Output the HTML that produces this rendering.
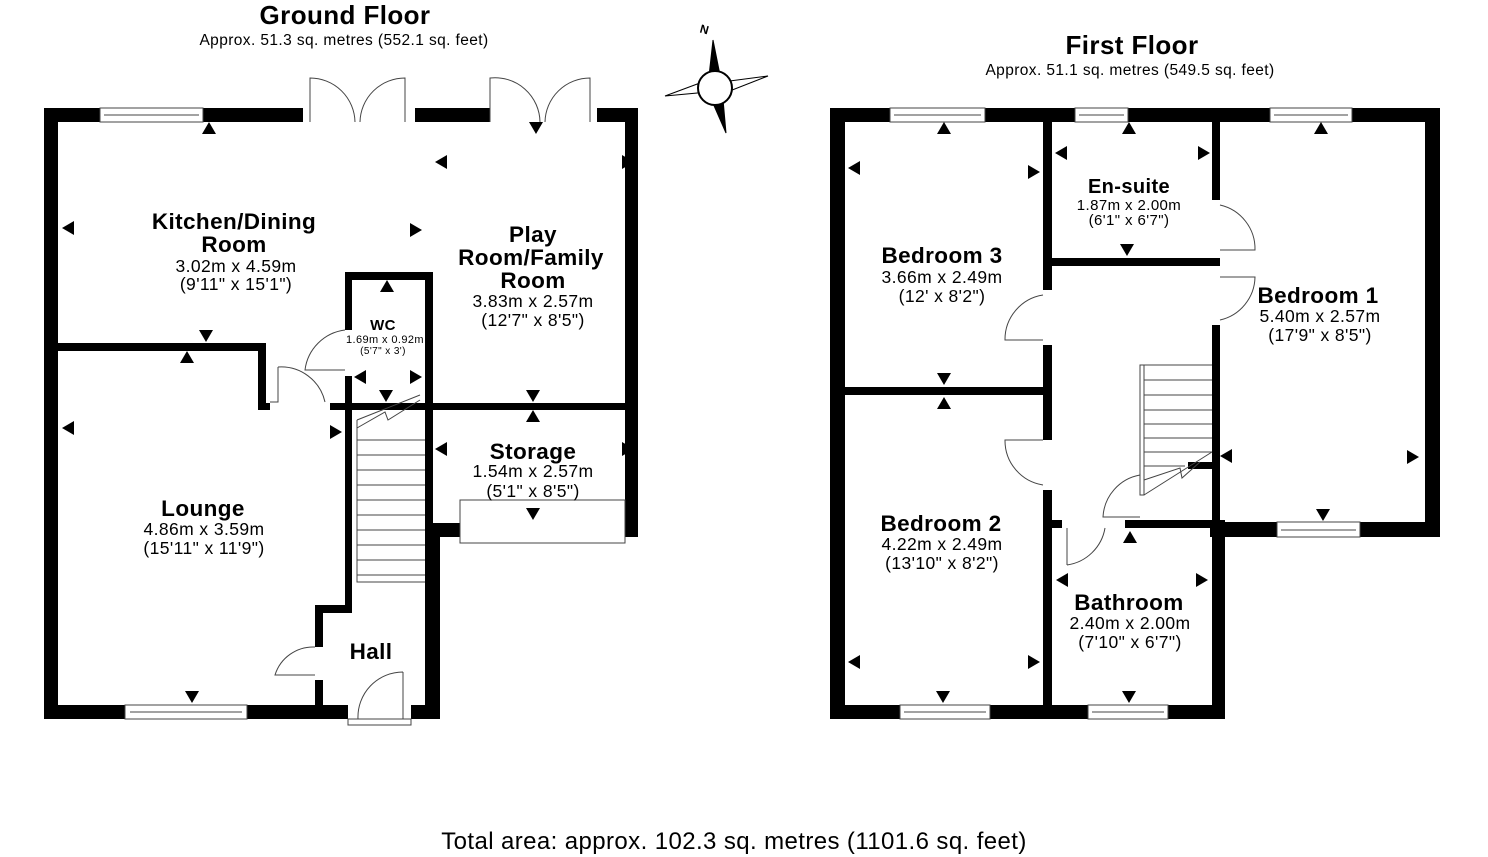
<!DOCTYPE html>
<html><head><meta charset="utf-8"><style>
html,body{margin:0;padding:0;background:#fff;width:1488px;height:857px;overflow:hidden}
svg text{font-family:"Liberation Sans",Arial,sans-serif;fill:#000;letter-spacing:0.4px}
</style></head><body>
<svg width="1488" height="857" viewBox="0 0 1488 857" xmlns="http://www.w3.org/2000/svg">
<defs>
<polygon id="tu" points="-7,6 7,6 0,-6"/>
<polygon id="td" points="-7,-6 7,-6 0,6"/>
<polygon id="tl" points="6,-7 6,7 -6,0"/>
<polygon id="tr" points="-6,-7 -6,7 6,0"/>
</defs>
<!-- Titles -->
<text x="345" y="24" font-size="26" font-weight="bold" text-anchor="middle">Ground Floor</text>
<text x="344" y="45" font-size="15.5" text-anchor="middle">Approx. 51.3 sq. metres (552.1 sq. feet)</text>
<text x="1132" y="54" font-size="26" font-weight="bold" text-anchor="middle">First Floor</text>
<text x="1130" y="75" font-size="15.5" text-anchor="middle">Approx. 51.1 sq. metres (549.5 sq. feet)</text>
<text x="734" y="849" font-size="24" text-anchor="middle">Total area: approx. 102.3 sq. metres (1101.6 sq. feet)</text>

<!-- Compass -->
<g stroke="#000" fill="#000">
<polygon points="713,40 722,85 708,85"/>
<polygon points="722,82 768,76 722,94" fill="#fff"/>
<polygon points="722,88 726,133 708,92"/>
<polygon points="708,80 665,96 708,92" fill="#fff"/>
<circle cx="715" cy="88" r="17" fill="#fff" stroke-width="2"/>
</g>
<text x="700" y="34" font-size="12" font-weight="bold" transform="rotate(15 706 30)">N</text>

<g fill="#000">
<rect x="44" y="108" width="14" height="611"/>
<rect x="44" y="108" width="56" height="14"/>
<rect x="203" y="108" width="100" height="14"/>
<rect x="415" y="108" width="75" height="14"/>
<rect x="597" y="108" width="41" height="14"/>
<rect x="625" y="108" width="13" height="429"/>
<rect x="44" y="705" width="81" height="14"/>
<rect x="247" y="705" width="101" height="14"/>
<rect x="411" y="705" width="29" height="14"/>
<rect x="425" y="272" width="8" height="447"/>
<rect x="427" y="523" width="13" height="196"/>
<rect x="427" y="523" width="33" height="14"/>
<rect x="625" y="523" width="13" height="14"/>
<rect x="58" y="343" width="208" height="8"/>
<rect x="258" y="343" width="8" height="67"/>
<rect x="258" y="403" width="12" height="7"/>
<rect x="330" y="403" width="308" height="7"/>
<rect x="345" y="272" width="88" height="8"/>
<rect x="345" y="272" width="7" height="58"/>
<rect x="345" y="376" width="7" height="236"/>
<rect x="315" y="605" width="37" height="8"/>
<rect x="315" y="605" width="8" height="42"/>
<rect x="315" y="680" width="8" height="30"/>

<rect x="830" y="108" width="15" height="611"/>
<rect x="830" y="108" width="60" height="14"/>
<rect x="985" y="108" width="90" height="14"/>
<rect x="1128" y="108" width="142" height="14"/>
<rect x="1352" y="108" width="88" height="14"/>
<rect x="1425" y="108" width="15" height="429"/>
<rect x="1210" y="522" width="67" height="15"/>
<rect x="1360" y="522" width="80" height="15"/>
<rect x="1212" y="522" width="13" height="197"/>
<rect x="830" y="705" width="70" height="14"/>
<rect x="990" y="705" width="98" height="14"/>
<rect x="1168" y="705" width="57" height="14"/>
<rect x="1043" y="122" width="9" height="168"/>
<rect x="1043" y="258" width="177" height="8"/>
<rect x="1043" y="345" width="9" height="95"/>
<rect x="1043" y="490" width="9" height="215"/>
<rect x="845" y="387" width="205" height="8"/>
<rect x="1212" y="122" width="8" height="78"/>
<rect x="1212" y="325" width="8" height="200"/>
<rect x="1125" y="520" width="100" height="8"/>
<rect x="1050" y="520" width="12" height="8"/>
<rect x="1188" y="462" width="26" height="7"/>
</g>

<g fill="none" stroke="#444" stroke-width="1">
<rect x="100" y="108" width="103" height="14"/><line x1="104" y1="115" x2="199" y2="115"/>
<rect x="125" y="705" width="122" height="14"/><line x1="130" y1="712" x2="242" y2="712"/>
<rect x="460" y="500" width="165" height="43"/>
<path d="M310,122 V78 A45,45 0 0 1 355,122 M405,122 V78 A45,45 0 0 0 360,122"/>
<path d="M490,122 V78 A45,45 0 0 1 540,122 M590,122 V78 A45,45 0 0 0 545,122"/>
<path d="M345,330 A46,46 0 0 0 305,370 H345"/>
<path d="M278,367 V402 H270 M278,367 A45,45 0 0 1 325,402"/>
<path d="M315,647 A40,40 0 0 0 275,675 H315"/>
<path d="M348,719 H411 V725 H348 Z M403,672 V719 M403,672 A45,45 0 0 0 358,719"/>
<path d="M357,420 L357,582 H425 M357,420 L420,395 M357,428 L385,412 L388,420 L420,400"/>
<path d="M357,440H425M357,455H425M357,470H425M357,485H425M357,500H425M357,515H425M357,530H425M357,545H425M357,560H425M357,575H425"/>
<rect x="890" y="108" width="95" height="14"/><line x1="894" y1="115" x2="981" y2="115"/>
<rect x="1075" y="108" width="53" height="14"/><line x1="1079" y1="115" x2="1124" y2="115"/>
<rect x="1270" y="108" width="82" height="14"/><line x1="1274" y1="115" x2="1348" y2="115"/>
<rect x="1277" y="522" width="83" height="15"/><line x1="1281" y1="530" x2="1356" y2="530"/>
<rect x="900" y="705" width="90" height="14"/><line x1="904" y1="712" x2="986" y2="712"/>
<rect x="1088" y="705" width="80" height="14"/><line x1="1092" y1="712" x2="1164" y2="712"/>
<path d="M1043,295 A45,45 0 0 0 1005,340 H1043"/>
<path d="M1043,440 H1005 A45,45 0 0 0 1043,485"/>
<path d="M1220,205 A45,45 0 0 1 1255,250 H1220"/>
<path d="M1220,277 H1255 A45,45 0 0 1 1220,320"/>
<path d="M1140,475 A45,45 0 0 0 1103,517 H1140"/>
<path d="M1067,528 V565 M1067,565 A45,45 0 0 0 1105,528"/>
<path d="M1140,365 V495 H1144 V365 Z M1144,365 H1212 M1144,495 L1212,452 M1144,480 L1180,468 L1182,478 L1200,462"/>
<path d="M1144,380H1212M1144,395H1212M1144,410H1212M1144,424H1212M1144,438H1212M1144,452H1212M1144,466H1185"/>
</g>

<g fill="#000">
<use href="#tu" x="209" y="128"/><use href="#td" x="536" y="128"/>
<use href="#tl" x="441" y="162"/><use href="#tr" x="628" y="162"/>
<use href="#tl" x="68" y="228"/><use href="#tr" x="416" y="230"/>
<use href="#td" x="206" y="336"/><use href="#tu" x="187" y="357"/>
<use href="#tu" x="387" y="286"/><use href="#tl" x="360" y="377"/><use href="#tr" x="416" y="377"/>
<use href="#td" x="386" y="396"/>
<use href="#td" x="533" y="396"/><use href="#tu" x="533" y="416"/>
<use href="#tl" x="68" y="428"/><use href="#tr" x="336" y="432"/>
<use href="#tl" x="441" y="449"/><use href="#tr" x="628" y="449"/>
<use href="#td" x="533" y="514"/><use href="#td" x="192" y="697"/>
<use href="#tu" x="944" y="128"/><use href="#tu" x="1129" y="128"/><use href="#tu" x="1321" y="128"/>
<use href="#tl" x="854" y="168"/><use href="#tr" x="1034" y="172"/>
<use href="#tl" x="1061" y="153"/><use href="#tr" x="1204" y="153"/>
<use href="#td" x="1127" y="250"/>
<use href="#td" x="944" y="379"/><use href="#tu" x="944" y="403"/>
<use href="#tl" x="1226" y="456"/><use href="#tr" x="1413" y="457"/>
<use href="#td" x="1323" y="515"/><use href="#tu" x="1130" y="537"/>
<use href="#tl" x="1062" y="580"/><use href="#tr" x="1202" y="580"/>
<use href="#tl" x="854" y="662"/><use href="#tr" x="1034" y="662"/>
<use href="#td" x="943" y="697"/><use href="#td" x="1129" y="697"/>
</g>

<g text-anchor="middle">
<text x="234" y="229" font-size="22.5" font-weight="bold">Kitchen/Dining</text>
<text x="234" y="252" font-size="22.5" font-weight="bold">Room</text>
<text x="236" y="272" font-size="17.5">3.02m x 4.59m</text>
<text x="236" y="290" font-size="17.5">(9'11" x 15'1")</text>
<text x="533" y="242" font-size="22.5" font-weight="bold">Play</text>
<text x="531" y="265" font-size="22.5" font-weight="bold">Room/Family</text>
<text x="533" y="288" font-size="22.5" font-weight="bold">Room</text>
<text x="533" y="307" font-size="17.5">3.83m x 2.57m</text>
<text x="533" y="326" font-size="17.5">(12'7" x 8'5")</text>
<text x="383" y="330" font-size="15" font-weight="bold">WC</text>
<text x="385" y="343" font-size="11" letter-spacing="0">1.69m x 0.92m</text>
<text x="383" y="354" font-size="10">(5'7" x 3')</text>
<text x="533" y="459" font-size="22.5" font-weight="bold">Storage</text>
<text x="533" y="477" font-size="17.5">1.54m x 2.57m</text>
<text x="533" y="497" font-size="17.5">(5'1" x 8'5")</text>
<text x="203" y="516" font-size="22.5" font-weight="bold">Lounge</text>
<text x="204" y="535" font-size="17.5">4.86m x 3.59m</text>
<text x="204" y="554" font-size="17.5">(15'11" x 11'9")</text>
<text x="371" y="659" font-size="22.5" font-weight="bold">Hall</text>

<text x="1129" y="193" font-size="20" font-weight="bold">En-suite</text>
<text x="1129" y="210" font-size="15">1.87m x 2.00m</text>
<text x="1129" y="225" font-size="15">(6'1" x 6'7")</text>
<text x="942" y="263" font-size="22.5" font-weight="bold">Bedroom 3</text>
<text x="942" y="283" font-size="17.5">3.66m x 2.49m</text>
<text x="942" y="302" font-size="17.5">(12' x 8'2")</text>
<text x="1318" y="303" font-size="22.5" font-weight="bold">Bedroom 1</text>
<text x="1320" y="322" font-size="17.5">5.40m x 2.57m</text>
<text x="1320" y="341" font-size="17.5">(17'9" x 8'5")</text>
<text x="941" y="531" font-size="22.5" font-weight="bold">Bedroom 2</text>
<text x="942" y="550" font-size="17.5">4.22m x 2.49m</text>
<text x="942" y="569" font-size="17.5">(13'10" x 8'2")</text>
<text x="1129" y="610" font-size="22.5" font-weight="bold">Bathroom</text>
<text x="1130" y="629" font-size="17.5">2.40m x 2.00m</text>
<text x="1130" y="648" font-size="17.5">(7'10" x 6'7")</text>
</g>
</svg>
</body></html>
